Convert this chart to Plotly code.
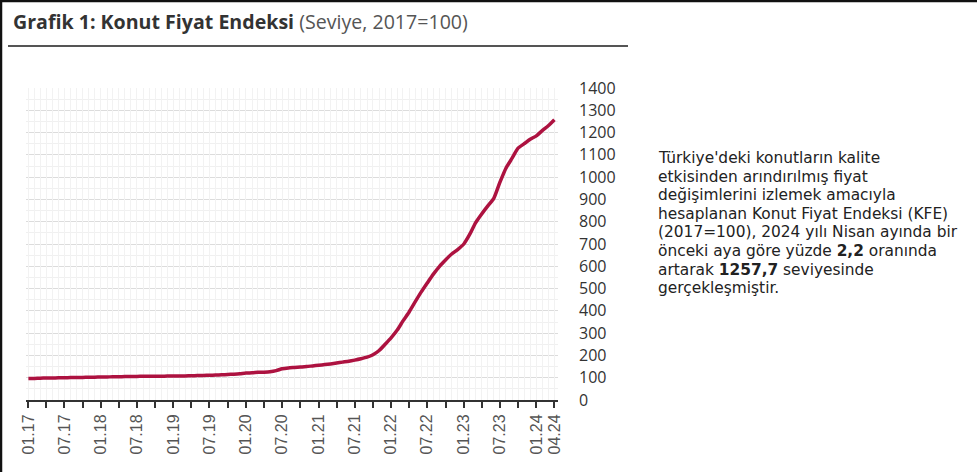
import plotly.graph_objects as go

# Konut Fiyat Endeksi (2017=100), monthly, 2017-01 .. 2024-04
months = [f"{y}-{m:02d}-01" for y in range(2017, 2025) for m in range(1, 13)][:88]

kfe_2017 = [96.0, 97.0, 98.0, 98.5, 99.0, 99.5, 100.0, 100.5, 101.0, 101.5, 102.0, 102.5]
kfe_2018 = [103.0, 103.5, 104.0, 104.5, 105.0, 105.5, 106.0, 106.3, 106.6, 106.8, 107.0, 107.2]
kfe_2019 = [107.5, 107.8, 108.2, 108.8, 109.5, 110.2, 111.0, 112.0, 113.0, 114.5, 116.0, 118.0]
kfe_2020 = [121.0, 122.0, 124.0, 125.0, 127.0, 132.0, 140.0, 144.0, 146.0, 148.0, 150.0, 153.0]
kfe_2021 = [156.0, 159.0, 162.0, 166.0, 170.0, 174.0, 179.0, 185.0, 192.0, 203.0, 222.0, 250.0]
kfe_2022 = [280.0, 315.0, 355.0, 395.0, 440.0, 485.0, 525.0, 565.0, 600.0, 628.0, 655.0, 675.0]
kfe_2023 = [700.0, 745.0, 795.0, 835.0, 870.0, 905.0, 975.0, 1040.0, 1085.0, 1130.0, 1150.0, 1170.0]
kfe_2024 = [1185.0, 1210.0, 1230.6, 1257.7]

kfe = kfe_2017 + kfe_2018 + kfe_2019 + kfe_2020 + kfe_2021 + kfe_2022 + kfe_2023 + kfe_2024

tick_dates = [f"{y}-{m:02d}-01" for y in range(2017, 2025) for m in (1, 7)][:15] + ["2024-04-01"]
tick_text = ["01.17", "07.17", "01.18", "07.18", "01.19", "07.19", "01.20", "07.20",
             "01.21", "07.21", "01.22", "07.22", "01.23", "07.23", "01.24", "04.24"]

y_ticks = list(range(0, 1401, 100))

title_bold = "Grafik 1: Konut Fiyat Endeksi"
title_rest = "(Seviye, 2017=100)"
note_lines = [
    "Türkiye'deki konutların kalite",
    "etkisinden arındırılmış fiyat",
    "değişimlerini izlemek amacıyla",
    "hesaplanan Konut Fiyat Endeksi (KFE)",
    "(2017=100), 2024 yılı Nisan ayında bir",
    "önceki aya göre yüzde <b>2,2</b> oranında",
    "artarak <b>1257,7</b> seviyesinde",
    "gerçekleşmiştir.",
]

x_range = ["2016-12-20", "2024-04-19"]

# pixel layout of the plotting area
W, H = 977, 472
ML, MR, MT, MB = 26, 419, 88, 72
PW, PH = W - ML - MR, H - MT - MB


def px(x):
    return (x - ML) / PW


def py(y):
    return (H - MB - y) / PH


fig = go.Figure()
fig.add_trace(go.Scatter(
    x=months, y=kfe, mode="lines",
    line=dict(color="#ad1240", width=3.5, shape="spline", smoothing=0.6),
    hoverinfo="x+y", showlegend=False,
))
# invisible trace on the overlay axis carrying the fine monthly grid
fig.add_trace(go.Scatter(x=[months[0], months[-1]], y=[0, 0], xaxis="x2",
                         mode="lines", line=dict(width=0), hoverinfo="skip",
                         showlegend=False))

annotations = [
    dict(xref="paper", yref="paper", x=px(11), y=py(21),
         xanchor="left", yanchor="middle", showarrow=False,
         text=f"<b>{title_bold}</b> <span style='color:#555'>{title_rest}</span>",
         font=dict(family="Open Sans", size=19.6, color="#333")),
]
for i, line in enumerate(note_lines):
    annotations.append(dict(
        xref="paper", yref="paper", x=px(656), y=py(158 + 18.6 * i),
        xanchor="left", yanchor="middle", showarrow=False, text=line,
        font=dict(family="DejaVu Sans", size=15.4, color="#222")))

fig.update_layout(
    width=W, height=H,
    margin=dict(l=ML, r=MR, t=MT, b=MB),
    paper_bgcolor="white", plot_bgcolor="white",
    font=dict(family="Open Sans", color="#333"),
    xaxis=dict(
        type="date", range=x_range,
        tickmode="array", tickvals=tick_dates, ticktext=tick_text,
        tickangle=-90, tickfont=dict(family="Liberation Sans", size=16, color="#555"),
        ticks="outside", ticklen=6, tickwidth=1.5, tickcolor="#333",
        showline=True, linecolor="#333", linewidth=2,
        showgrid=True, gridcolor="#dcdcdc", gridwidth=1,
        minor=dict(dtick="M3", tick0="2017-01-01", ticks="outside", ticklen=6,
                   tickwidth=1.5, tickcolor="#333", showgrid=True,
                   gridcolor="#dcdcdc", gridwidth=1),
        zeroline=False, layer="below traces",
    ),
    xaxis2=dict(
        type="date", range=x_range, overlaying="x", side="bottom",
        dtick="M1", tick0="2017-01-01", showticklabels=False, ticks="",
        showgrid=True, gridcolor="#f2f2f2", gridwidth=1, showline=False,
        zeroline=False, layer="below traces",
    ),
    yaxis=dict(
        range=[0, 1400], side="right", tickmode="array", tickvals=y_ticks,
        tickfont=dict(family="Open Sans", size=16, color="#333"),
        ticklabelstandoff=20, ticks="", showline=False,
        showgrid=True, gridcolor="#dcdcdc", gridwidth=1,
        minor=dict(dtick=50, showgrid=True, gridcolor="#f0f0f0", gridwidth=1),
        zeroline=False,
    ),
    annotations=annotations,
    shapes=[
        # rule under the heading
        dict(type="line", xref="paper", yref="paper",
             x0=px(8), x1=px(628), y0=py(46), y1=py(46),
             line=dict(color="#555", width=2)),
        # frame edges (left and top)
        dict(type="line", xref="paper", yref="paper",
             x0=px(1), x1=px(1), y0=py(H), y1=py(0),
             line=dict(color="#111", width=2.5)),
        dict(type="line", xref="paper", yref="paper",
             x0=px(0), x1=px(W), y0=py(1), y1=py(1),
             line=dict(color="#111", width=2.5)),
    ],
)

fig.write_html("out.html")
